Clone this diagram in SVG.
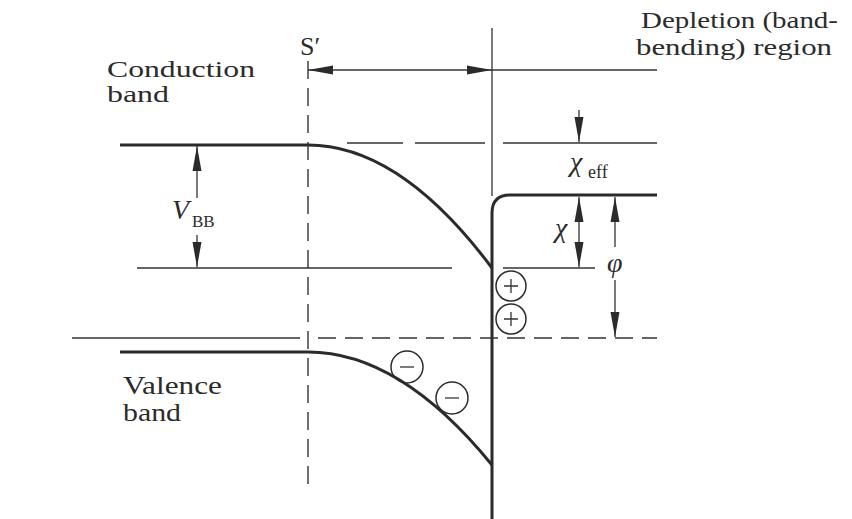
<svg xmlns="http://www.w3.org/2000/svg" width="852" height="519" viewBox="0 0 852 519">
<defs>
<marker id="ah" markerUnits="userSpaceOnUse" markerWidth="26" markerHeight="10" refX="25" refY="5" orient="auto-start-reverse">
<path d="M0,0.5 L25,5 L0,9.5 z" fill="#2b2b2b"/>
</marker>
</defs>
<style>
.thick{fill:none;stroke:#2b2b2b;stroke-width:3}
.thin{fill:none;stroke:#333;stroke-width:1.3}
.dash{fill:none;stroke:#333;stroke-width:1.4;stroke-dasharray:18 9}
.arr{fill:none;stroke:#333;stroke-width:1.3;marker-end:url(#ah)}
.arr2{fill:none;stroke:#333;stroke-width:1.3;marker-start:url(#ah);marker-end:url(#ah)}
text{font-family:'Liberation Serif','DejaVu Serif',serif;fill:#2b2b2b}
.circ{fill:none;stroke:#2b2b2b;stroke-width:1.5}
</style>
<rect width="852" height="519" fill="#ffffff"/>

<g id="conduction-band">
<path class="thick" d="M120,145 L308,145 Q400,145 492,268"/>
<path class="thick" d="M492,519 L492,213 Q492,195 510,195 L657,195"/>
<text font-family="Liberation Serif, DejaVu Serif, serif" font-size="24" x="107" y="77" textLength="148" lengthAdjust="spacingAndGlyphs">Conduction</text>
<text font-family="Liberation Serif, DejaVu Serif, serif" font-size="24" x="107" y="102" textLength="62" lengthAdjust="spacingAndGlyphs">band</text>
</g>

<g id="valence-band">
<path class="thick" d="M120,352 L308,352 Q400,352 492,465"/>
<text font-family="Liberation Serif, DejaVu Serif, serif" font-size="25" x="123" y="394" textLength="99" lengthAdjust="spacingAndGlyphs">Valence</text>
<text font-family="Liberation Serif, DejaVu Serif, serif" font-size="25" x="123" y="421" textLength="58" lengthAdjust="spacingAndGlyphs">band</text>
</g>

<g id="surface">
<line class="thin" x1="492" y1="28" x2="492" y2="196"/>
<text font-family="Liberation Serif, DejaVu Serif, serif" font-size="26" x="300" y="55">S′</text>
</g>

<g id="depletion-label">
<text font-family="Liberation Serif, DejaVu Serif, serif" font-size="23" x="641" y="28" textLength="197" lengthAdjust="spacingAndGlyphs">Depletion (band-</text>
<text font-family="Liberation Serif, DejaVu Serif, serif" font-size="23" x="636" y="55" textLength="196" lengthAdjust="spacingAndGlyphs">bending) region</text>
</g>

<g id="charges">
<circle class="circ" cx="511" cy="286" r="15"/>
<path class="thin" d="M504,286 H518 M511,279 V293"/>
<circle class="circ" cx="511" cy="319" r="15"/>
<path class="thin" d="M504,319 H518 M511,312 V326"/>
<circle class="circ" cx="407" cy="367" r="16"/>
<path class="thin" d="M400,367 H414"/>
<circle class="circ" cx="452" cy="398" r="16"/>
<path class="thin" d="M445,398 H459"/>
</g>

<g id="labels">
<text font-family="Liberation Serif, DejaVu Serif, serif" font-size="28" font-style="italic" x="172" y="219">V</text>
<text font-family="Liberation Serif, DejaVu Serif, serif" font-size="17" x="192" y="227">BB</text>
<text font-family="Liberation Serif, DejaVu Serif, serif" font-size="28" font-style="italic" x="555" y="237">χ</text>
<text font-family="Liberation Serif, DejaVu Serif, serif" font-size="28" font-style="italic" x="570" y="171">χ</text>
<text font-family="Liberation Serif, DejaVu Serif, serif" font-size="18" x="588" y="178">eff</text>
<text font-family="Liberation Serif, DejaVu Serif, serif" font-size="28" font-style="italic" x="607" y="272">φ</text>
</g>

<g id="connectors">
<line class="dash" x1="308" y1="61" x2="308" y2="490"/>
<line class="thin" x1="137" y1="268" x2="452" y2="268"/>
<line class="thin" x1="503" y1="268" x2="595" y2="268"/>
<line class="thin" x1="347" y1="143" x2="403" y2="143"/>
<line class="thin" x1="415" y1="143" x2="485" y2="143"/>
<line class="thin" x1="503" y1="143" x2="657" y2="143"/>
<line class="thin" x1="72" y1="338" x2="300" y2="338"/>
<line class="dash" x1="318" y1="338" x2="657" y2="338"/>
<line class="thin" x1="492" y1="70" x2="657" y2="70"/>
<line class="arr2" x1="308" y1="70" x2="492" y2="70"/>
<line class="arr" x1="197" y1="198" x2="197" y2="146"/>
<line class="arr" x1="197" y1="235" x2="197" y2="267"/>
<line class="arr" x1="579" y1="110" x2="579" y2="142"/>
<line class="arr2" x1="579" y1="197" x2="579" y2="267"/>
<line class="arr" x1="615" y1="247" x2="615" y2="197"/>
<line class="arr" x1="615" y1="280" x2="615" y2="337"/>
</g>
</svg>
